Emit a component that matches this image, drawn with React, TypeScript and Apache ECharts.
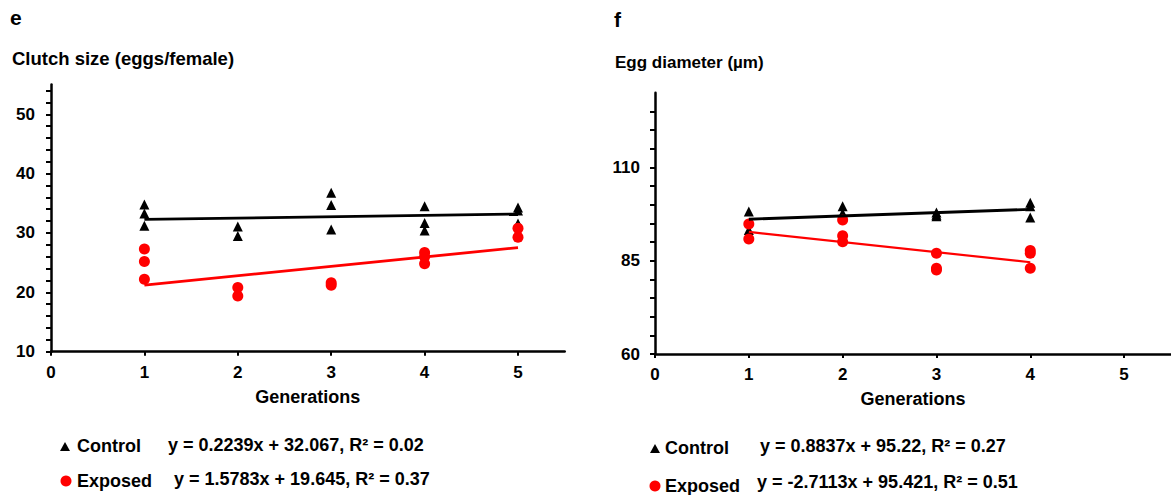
import React, { useEffect, useRef } from "react";
import * as echarts from "echarts";

// ---- Data ----
const generations = [1, 2, 3, 4, 5];
const clutchControl: number[][] = [
  [34.8, 33.3, 31.2],
  [31.1, 29.5],
  [36.8, 34.7, 30.6],
  [34.5, 31.7, 30.4],
  [34.3, 33.8, 31.6],
];
const clutchExposed: number[][] = [
  [27.3, 25.2, 22.2],
  [20.8, 19.4],
  [21.6, 21.2],
  [26.7, 26.0, 24.8],
  [30.8, 29.3],
];
const eggControl: number[][] = [
  [98.2, 93.2],
  [99.6, 97.7],
  [97.9, 96.9, 97.3],
  [100.5, 99.6, 96.6],
];
const eggExposed: number[][] = [
  [94.8, 90.8],
  [95.9, 91.7, 90.1],
  [87.0, 83.0, 82.5],
  [87.7, 87.0, 83.0],
];
// regression coefficients [slope, intercept]
const clutchControlFit = [0.2239, 32.067];
const clutchExposedFit = [1.5783, 19.645];
const eggControlFit = [0.8837, 95.22];
const eggExposedFit = [-2.7113, 95.421];
const clutchFitRange = [1, 5];
const eggFitRange = [1, 4];
const xTicks = [0, 1, 2, 3, 4, 5];

const FONT = "Liberation Sans";

function pts(groups: number[][]) {
  const out: number[][] = [];
  groups.forEach((g, i) => g.forEach((v) => out.push([generations[i], v])));
  return out;
}
function fitLine(fit: number[], range: number[]) {
  return range.map((x) => [x, fit[0] * x + fit[1]]);
}

export default function App() {
  const ref = useRef<HTMLDivElement>(null);
  useEffect(() => {
    document.body.style.margin = "0";
    const chart = echarts.init(ref.current!, undefined, { renderer: "svg" });
    const axisLine = { lineStyle: { color: "#000", width: 2.5 } };
    const lbl = { color: "#000", fontFamily: FONT, fontWeight: "bold" as const, fontSize: 17 };
    const xAxisBase = (gridIndex: number) => ({
      type: "value" as const,
      gridIndex,
      min: 0,
      max: 5.5,
      interval: 1,
      axisLine,
      axisTick: { show: true, length: 4, lineStyle: { color: "#000", width: 2 } },
      splitLine: { show: false },
      axisLabel: {
        ...lbl,
        margin: 12,
        showMaxLabel: false,
        formatter: (v: number) => (xTicks.includes(v) ? String(v) : ""),
      },
      name: "Generations",
      nameLocation: "middle" as const,
      nameGap: 36,
      nameTextStyle: { ...lbl, fontSize: 18 },
    });
    const tri = "triangle";
    const black = { color: "#000", opacity: 1 };
    const red = { color: "#ff0000", opacity: 1 };
    const option: any = {
      animation: false,
      grid: [
        { left: 51, top: 84.6, width: 513.7, height: 267.1 },
        { left: 655, top: 92.7, width: 522.5, height: 261.3 },
      ],
      xAxis: [xAxisBase(0), xAxisBase(1)],
      yAxis: [
        {
          type: "value",
          gridIndex: 0,
          min: 10,
          max: 55,
          interval: 2,
          axisLine: { show: true, ...axisLine },
          axisTick: { show: true, length: 5, lineStyle: { color: "#000", width: 2 } },
          splitLine: { show: false },
          axisLabel: {
            ...lbl,
            margin: 16,
            showMaxLabel: false,
            formatter: (v: number) => (v % 10 === 0 ? String(v) : ""),
          },
        },
        {
          type: "value",
          gridIndex: 1,
          min: 60,
          max: 130,
          interval: 5,
          axisLine: { show: true, ...axisLine },
          axisTick: { show: true, length: 5, lineStyle: { color: "#000", width: 2 } },
          splitLine: { show: false },
          axisLabel: {
            ...lbl,
            margin: 15,
            showMaxLabel: false,
            formatter: (v: number) => ((v - 60) % 25 === 0 ? String(v) : ""),
          },
        },
      ],
      series: [
        { type: "scatter", xAxisIndex: 0, yAxisIndex: 0, symbol: tri, symbolSize: 10, itemStyle: black, data: pts(clutchControl) },
        { type: "scatter", xAxisIndex: 0, yAxisIndex: 0, symbol: "circle", symbolSize: 11, itemStyle: red, data: pts(clutchExposed) },
        { type: "line", xAxisIndex: 0, yAxisIndex: 0, showSymbol: false, lineStyle: { color: "#000", width: 2.8 }, data: fitLine(clutchControlFit, clutchFitRange) },
        { type: "line", xAxisIndex: 0, yAxisIndex: 0, showSymbol: false, lineStyle: { color: "#ff0000", width: 2.8 }, data: fitLine(clutchExposedFit, clutchFitRange) },
        { type: "scatter", xAxisIndex: 1, yAxisIndex: 1, symbol: tri, symbolSize: 10, itemStyle: black, data: pts(eggControl) },
        { type: "scatter", xAxisIndex: 1, yAxisIndex: 1, symbol: "circle", symbolSize: 11, itemStyle: red, data: pts(eggExposed) },
        { type: "line", xAxisIndex: 1, yAxisIndex: 1, showSymbol: false, lineStyle: { color: "#000", width: 2.8 }, data: fitLine(eggControlFit, eggFitRange) },
        { type: "line", xAxisIndex: 1, yAxisIndex: 1, showSymbol: false, lineStyle: { color: "#ff0000", width: 2.2 }, data: fitLine(eggExposedFit, eggFitRange) },
      ],
      graphic: [
        { type: "text", left: 10, top: 7, style: { text: "e", font: `bold 21px ${FONT}`, fill: "#000" } },
        { type: "text", left: 12, top: 49, style: { text: "Clutch size (eggs/female)", font: `bold 18.5px ${FONT}`, fill: "#000" } },
        { type: "text", left: 614, top: 9, style: { text: "f", font: `bold 21px ${FONT}`, fill: "#000" } },
        { type: "text", left: 615, top: 54, style: { text: "Egg diameter (µm)", font: `bold 17px ${FONT}`, fill: "#000" } },
        // left legend
        { type: "polygon", shape: { points: [[65, 442], [70, 451], [60, 451]] }, style: { fill: "#000" } },
        { type: "text", x: 77, y: 446, style: { text: "Control", font: `bold 18px ${FONT}`, fill: "#000", verticalAlign: "middle" } },
        { type: "text", x: 168, y: 445, style: { text: "y = 0.2239x + 32.067, R² = 0.02", font: `bold 18px ${FONT}`, fill: "#000", verticalAlign: "middle" } },
        { type: "circle", shape: { cx: 66, cy: 481, r: 5.5 }, style: { fill: "#ff0000" } },
        { type: "text", x: 77, y: 481, style: { text: "Exposed", font: `bold 18px ${FONT}`, fill: "#000", verticalAlign: "middle" } },
        { type: "text", x: 174, y: 479, style: { text: "y = 1.5783x + 19.645, R² = 0.37", font: `bold 18px ${FONT}`, fill: "#000", verticalAlign: "middle" } },
        // right legend
        { type: "polygon", shape: { points: [[655, 444], [660, 453], [650, 453]] }, style: { fill: "#000" } },
        { type: "text", x: 665, y: 448, style: { text: "Control", font: `bold 18px ${FONT}`, fill: "#000", verticalAlign: "middle" } },
        { type: "text", x: 760, y: 446, style: { text: "y = 0.8837x + 95.22, R² = 0.27", font: `bold 18px ${FONT}`, fill: "#000", verticalAlign: "middle" } },
        { type: "circle", shape: { cx: 655, cy: 486, r: 5.5 }, style: { fill: "#ff0000" } },
        { type: "text", x: 665, y: 486, style: { text: "Exposed", font: `bold 18px ${FONT}`, fill: "#000", verticalAlign: "middle" } },
        { type: "text", x: 757, y: 482, style: { text: "y = -2.7113x + 95.421, R² = 0.51", font: `bold 18px ${FONT}`, fill: "#000", verticalAlign: "middle" } },
      ],
    };
    chart.setOption(option);
    return () => chart.dispose();
  }, []);
  return <div ref={ref} style={{ width: 1171, height: 495 }} />;
}
